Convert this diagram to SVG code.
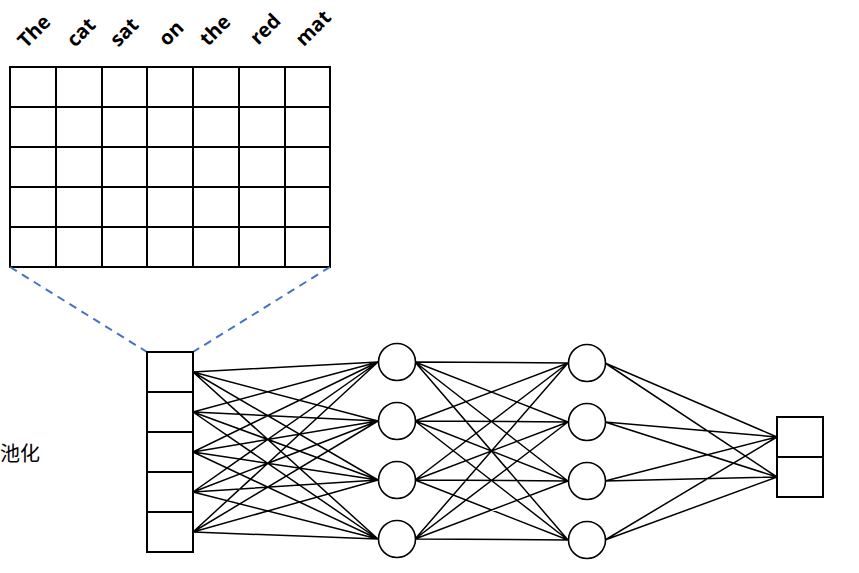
<svg xmlns="http://www.w3.org/2000/svg" width="859" height="573" viewBox="0 0 859 573">
<style>
.word{font-family:"Open Sans","Liberation Sans",sans-serif;font-weight:bold;font-size:20px;fill:#000;text-anchor:middle}
.cell{fill:#fff;stroke:#000;stroke-width:2}
.node{fill:#fff;stroke:#000;stroke-width:1.6}
.edge{stroke:#000;stroke-width:1.5;fill:none}
.dash{stroke:#4472C4;stroke-width:2;stroke-dasharray:8,6;fill:none}
.lbl{font-family:"Noto Sans CJK SC","Noto Sans",sans-serif;font-size:20px;fill:#000}
</style>
<rect width="859" height="573" fill="#fff"/>
<g id="words">
<text class="word" x="39" y="36" transform="rotate(-45 39 36)">The</text>
<text class="word" x="86" y="37" transform="rotate(-45 86 37)">cat</text>
<text class="word" x="129" y="37" transform="rotate(-45 129 37)">sat</text>
<text class="word" x="176" y="38" transform="rotate(-45 176 38)">on</text>
<text class="word" x="220" y="35" transform="rotate(-45 220 35)">the</text>
<text class="word" x="270" y="34" transform="rotate(-45 270 34)">red</text>
<text class="word" x="318" y="33" transform="rotate(-45 318 33)">mat</text>
</g>
<g id="matrix">
<rect x="10" y="67" width="320" height="200" fill="#fff" stroke="#000" stroke-width="2"/>
<path d="M56 67V267M102 67V267M147 67V267M193 67V267M239 67V267M285 67V267M10 107H330M10 147H330M10 187H330M10 227H330" stroke="#000" stroke-width="2" fill="none"/>
</g>
<g id="projection">
<line class="dash" x1="10" y1="267" x2="147" y2="352"/>
<line class="dash" x1="330" y1="267" x2="193" y2="352"/>
</g>
<g id="pool">
<rect class="cell" x="147" y="352" width="46" height="40"/>
<rect class="cell" x="147" y="392" width="46" height="40"/>
<rect class="cell" x="147" y="432" width="46" height="40"/>
<rect class="cell" x="147" y="472" width="46" height="40"/>
<rect class="cell" x="147" y="512" width="46" height="40"/>
</g>
<text id="pool-label" class="lbl" x="0" y="461">池化</text>
<g id="connectors">
<path class="edge" d="M193 372L378 362M193 372L378 421M193 372L378 480M193 372L378 539
M193 412L378 362M193 412L378 421M193 412L378 480M193 412L378 539
M193 452L378 362M193 452L378 421M193 452L378 480M193 452L378 539
M193 492L378 362M193 492L378 421M193 492L378 480M193 492L378 539
M193 532L378 362M193 532L378 421M193 532L378 480M193 532L378 539"/>
<path class="edge" d="M415 362L568 363M415 362L568 422M415 362L568 481M415 362L568 540
M415 421L568 363M415 421L568 422M415 421L568 481M415 421L568 540
M415 480L568 363M415 480L568 422M415 480L568 481M415 480L568 540
M415 539L568 363M415 539L568 422M415 539L568 481M415 539L568 540"/>
<path class="edge" d="M605 363L777 437M605 363L777 477M605 422L777 437M605 422L777 477
M605 481L777 437M605 481L777 477M605 540L777 437M605 540L777 477"/>
</g>
<g id="hidden1">
<circle class="node" cx="397" cy="362" r="18.5"/>
<circle class="node" cx="397" cy="421" r="18.5"/>
<circle class="node" cx="397" cy="480" r="18.5"/>
<circle class="node" cx="397" cy="539" r="18.5"/>
</g>
<g id="hidden2">
<circle class="node" cx="587" cy="363" r="18.5"/>
<circle class="node" cx="587" cy="422" r="18.5"/>
<circle class="node" cx="587" cy="481" r="18.5"/>
<circle class="node" cx="587" cy="540" r="18.5"/>
</g>
<g id="output">
<rect class="cell" x="777" y="417" width="46" height="40"/>
<rect class="cell" x="777" y="457" width="46" height="40"/>
</g>
</svg>
